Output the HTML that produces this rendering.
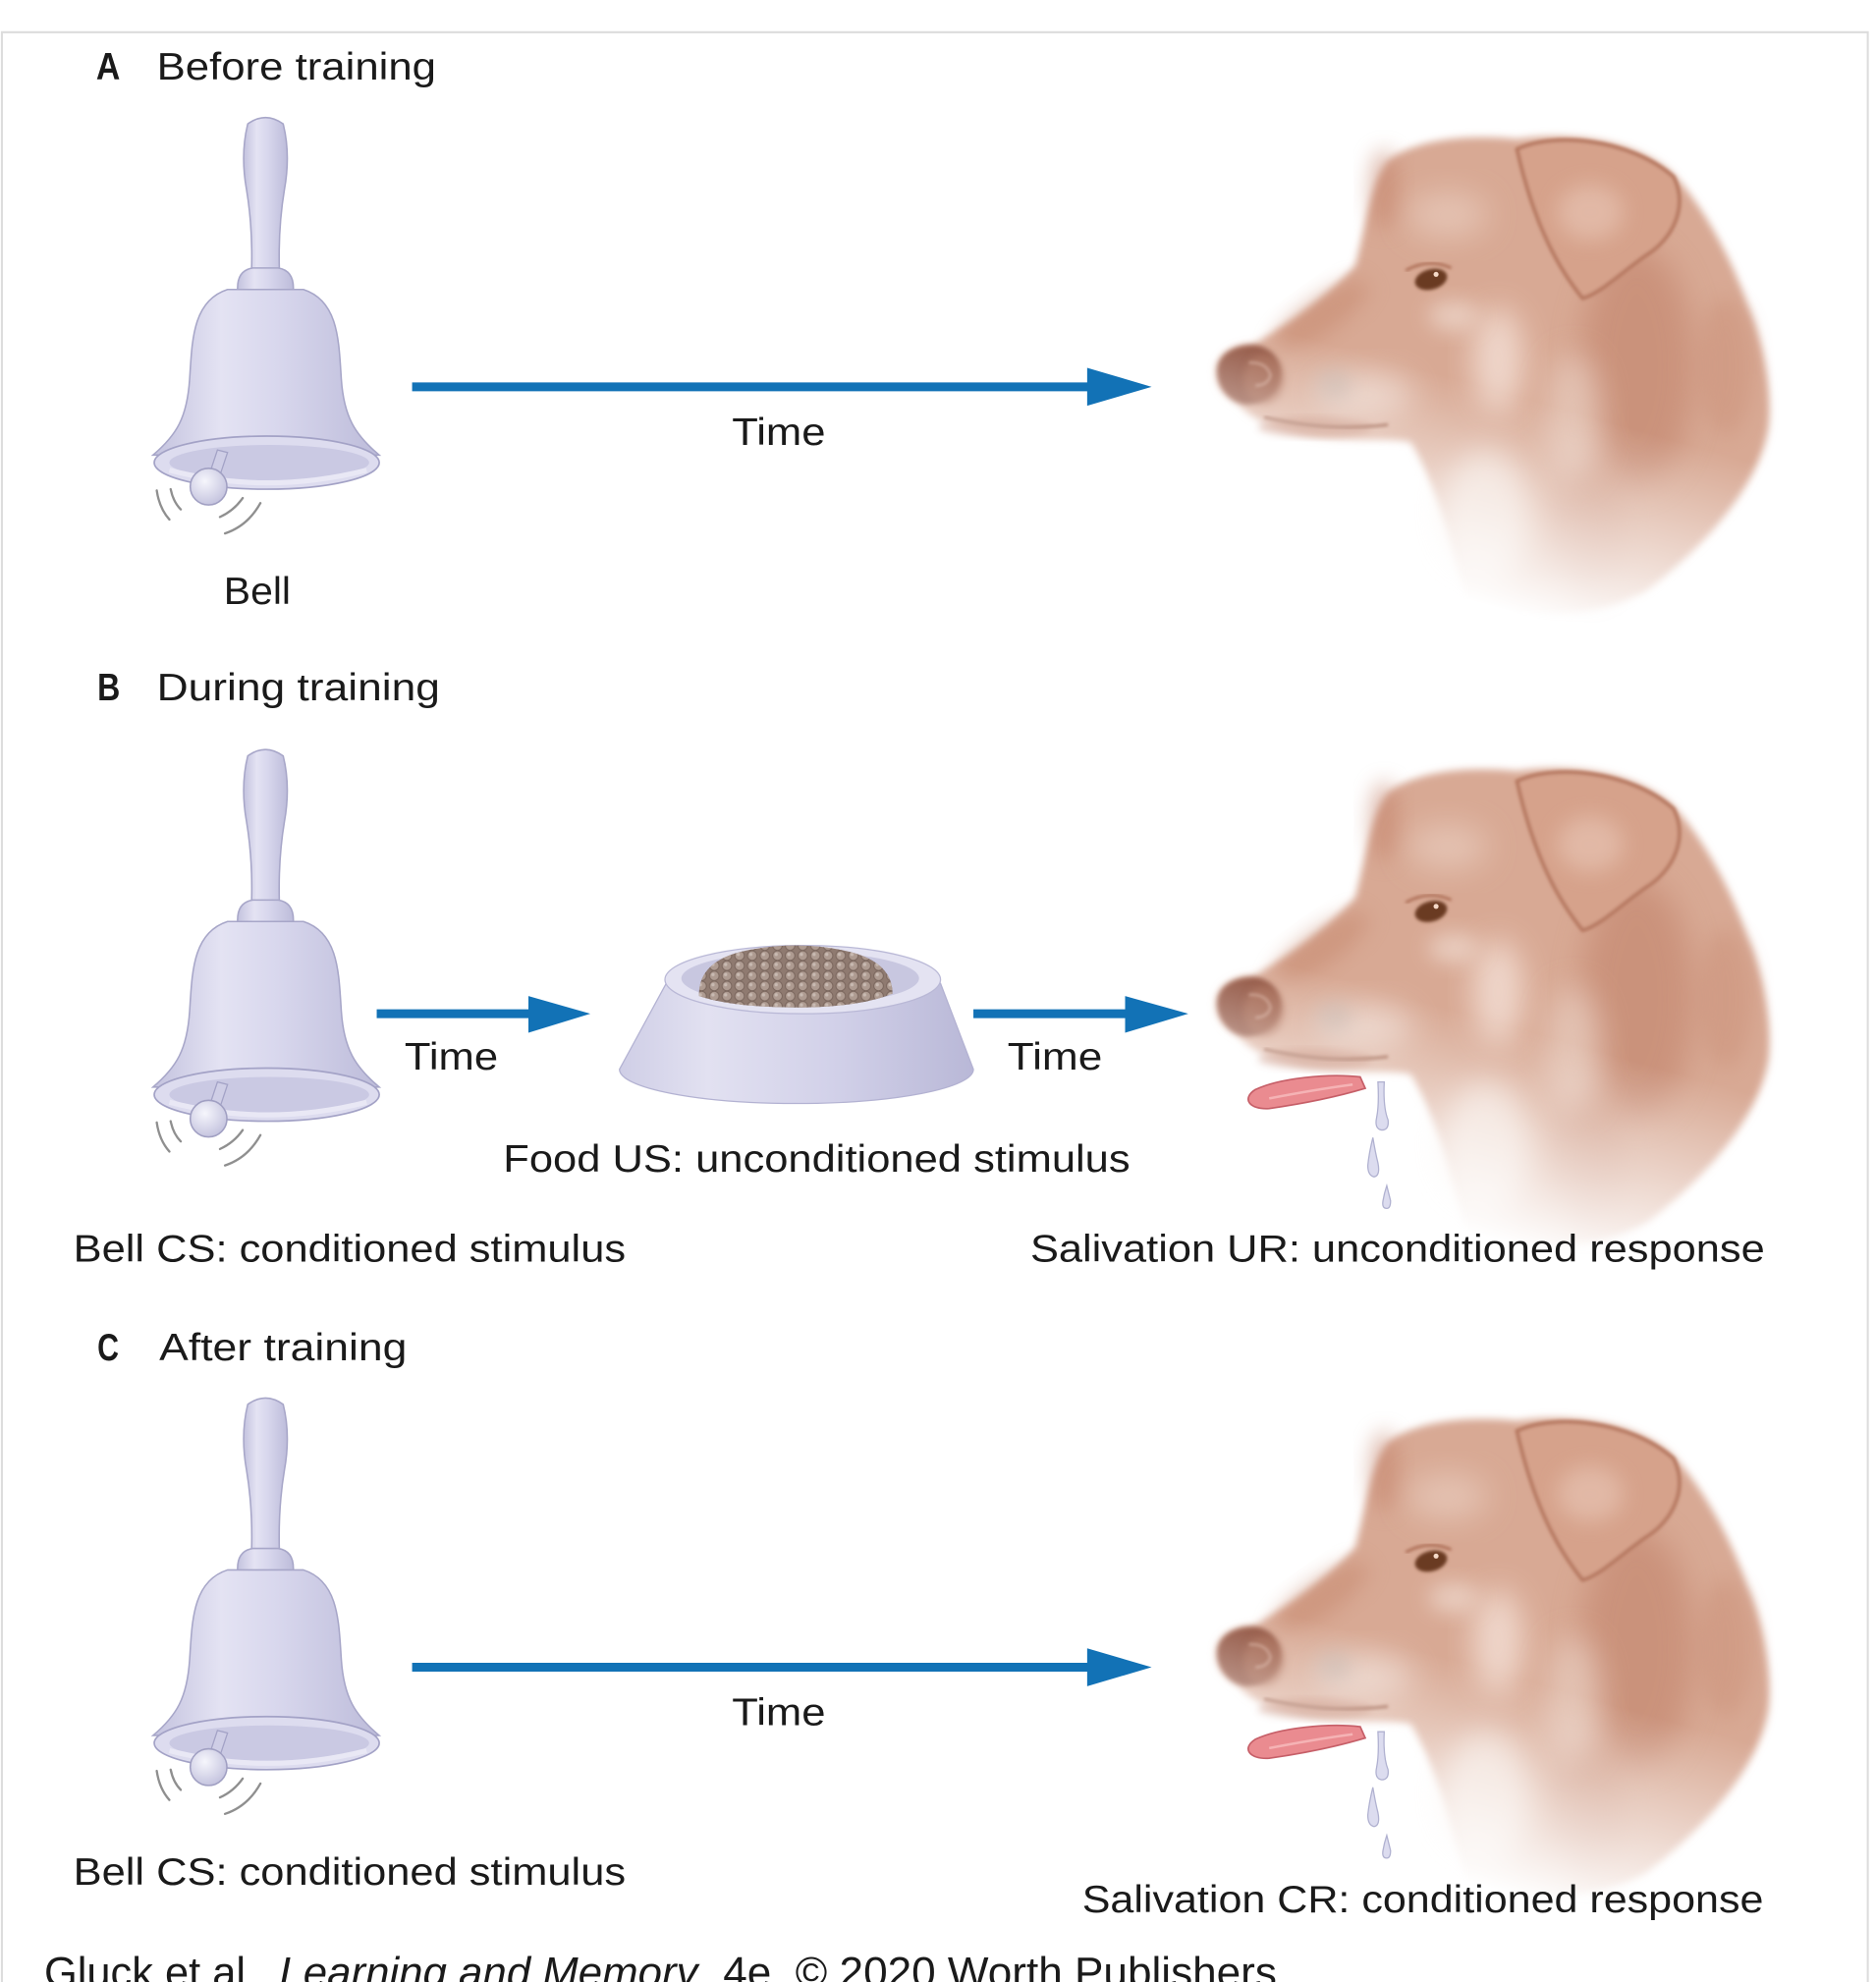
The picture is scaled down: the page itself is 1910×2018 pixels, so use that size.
<!DOCTYPE html>
<html><head><meta charset="utf-8"><style>
html,body{margin:0;padding:0;background:#fff;}
svg{display:block;}
text{font-family:"Liberation Sans",Arial,sans-serif;fill:#1a1a1a;}
</style></head><body>
<svg width="1910" height="2018" viewBox="0 0 1484 1568" preserveAspectRatio="none" xmlns="http://www.w3.org/2000/svg">
<defs>
  <linearGradient id="bellg" x1="0" x2="1" y1="0" y2="0">
    <stop offset="0" stop-color="#c3c2de"/>
    <stop offset="0.3" stop-color="#e4e3f3"/>
    <stop offset="0.55" stop-color="#d8d7ed"/>
    <stop offset="1" stop-color="#bdbcda"/>
  </linearGradient>
  <linearGradient id="bowlg" x1="0" x2="1" y1="0" y2="0">
    <stop offset="0" stop-color="#cfcee6"/>
    <stop offset="0.25" stop-color="#e2e1f1"/>
    <stop offset="0.6" stop-color="#d2d1e9"/>
    <stop offset="1" stop-color="#b9b8d7"/>
  </linearGradient>
  <radialGradient id="ballg" cx="0.4" cy="0.35" r="0.7">
    <stop offset="0" stop-color="#f6f6fc"/>
    <stop offset="1" stop-color="#c2c1dd"/>
  </radialGradient>
  <pattern id="peb" width="10" height="8" patternUnits="userSpaceOnUse">
    <circle cx="5" cy="4" r="3.8" fill="#b09d93" stroke="#7a665d" stroke-width=".8"/>
    <circle cx="4" cy="3" r="1.3" fill="#cbbdb5"/>
  </pattern>
  <filter id="b1" x="-20%" y="-20%" width="140%" height="140%"><feGaussianBlur stdDeviation="1.2"/></filter>
  <filter id="b2" x="-30%" y="-30%" width="160%" height="160%"><feGaussianBlur stdDeviation="2"/></filter>
  <filter id="b3" x="-20%" y="-20%" width="140%" height="140%"><feGaussianBlur stdDeviation="3"/></filter>
  <filter id="b8" x="-50%" y="-50%" width="200%" height="200%"><feGaussianBlur stdDeviation="8"/></filter>
  <filter id="b12" x="-50%" y="-50%" width="200%" height="200%"><feGaussianBlur stdDeviation="12"/></filter>
  <linearGradient id="fadeg" gradientUnits="userSpaceOnUse" x1="1260" y1="330" x2="1215" y2="490">
    <stop offset="0" stop-color="#fff"/>
    <stop offset="1" stop-color="#000"/>
  </linearGradient>
  <mask id="dogfade" maskUnits="userSpaceOnUse" x="900" y="60" width="560" height="460">
    <rect x="900" y="60" width="560" height="460" fill="url(#fadeg)"/>
  </mask>

  <g id="bell">
    <path d="M196 98 Q210 88 224 98 Q230 122 225 150 Q220 180 221 214 L199 214 Q200 180 195 150 Q190 122 196 98 Z" fill="url(#bellg)" stroke="#a7a6c8" stroke-width="1.2"/>
    <path d="M188 230 Q187 214 200 212 L220 212 Q233 214 232 230 Z" fill="url(#bellg)" stroke="#a7a6c8" stroke-width="1.2"/>
    <path d="M180 229 C152 238 152 270 150 300 C148 330 140 344 121 360 L300 360 C281 344 272 330 270 300 C268 270 268 238 240 229 Z" fill="url(#bellg)" stroke="#a7a6c8" stroke-width="1.2"/>
    <ellipse cx="211" cy="366" rx="89" ry="21" fill="#dddcef" stroke="#a3a2c6" stroke-width="1.3"/>
    <ellipse cx="213" cy="366" rx="79" ry="14" fill="#cac9e3"/>
    <path d="M134 372 Q211 392 290 372" fill="none" stroke="#e9e8f5" stroke-width="4"/>
    <path d="M172 356 L180 358 L174 376 L166 374 Z" fill="#cfcee6" stroke="#a3a2c6" stroke-width="1"/>
    <circle cx="165" cy="385" r="14.5" fill="url(#ballg)" stroke="#a09fc2" stroke-width="1.2"/>
    <g fill="none" stroke="#8f8f8f" stroke-width="1.8" stroke-linecap="round">
      <path d="M124 388 Q126 402 134 411"/>
      <path d="M135 387 Q137 397 143 403"/>
      <path d="M174 409 Q185 404 192 394"/>
      <path d="M178 422 Q196 416 206 398"/>
    </g>
  </g>

  <g id="doghead">
    <g mask="url(#dogfade)">
      <path d="M962 294 C962 281 974 273 992 272 C1020 256 1052 232 1072 210 C1080 180 1084 145 1098 127 C1120 110 1160 106 1200 110 C1240 104 1292 110 1322 136 C1345 160 1368 200 1382 240 C1396 272 1402 312 1399 338 C1392 382 1352 430 1302 468 C1262 490 1200 492 1160 482 C1150 432 1136 384 1116 350 C1100 346 1070 350 1040 346 C1010 341 990 332 980 320 C968 313 962 306 962 294 Z" fill="#d8a994" filter="url(#b3)"/>
      <!-- shading -->
      <ellipse cx="1295" cy="290" rx="45" ry="95" fill="#c08068" opacity="0.55" filter="url(#b12)"/>
      <ellipse cx="1365" cy="290" rx="22" ry="55" fill="#c98e76" opacity="0.45" filter="url(#b8)"/>
      <ellipse cx="1045" cy="250" rx="45" ry="14" fill="#c5866c" opacity="0.5" transform="rotate(-35 1045 250)" filter="url(#b8)"/>
      <ellipse cx="1095" cy="150" rx="12" ry="32" fill="#c28068" opacity="0.5" filter="url(#b8)"/>
      <ellipse cx="1040" cy="338" rx="45" ry="8" fill="#b77158" opacity="0.6" filter="url(#b3)"/>
      <ellipse cx="1255" cy="420" rx="28" ry="60" fill="#c4866e" opacity="0.45" filter="url(#b12)"/>
      <!-- highlights -->
      <ellipse cx="1185" cy="285" rx="20" ry="42" fill="#f7e6de" opacity="0.75" filter="url(#b12)"/>
      <ellipse cx="1080" cy="312" rx="38" ry="18" fill="#efdcd3" opacity="0.7" filter="url(#b12)"/>
      <ellipse cx="1145" cy="170" rx="32" ry="18" fill="#ecd3c6" opacity="0.6" filter="url(#b12)"/>
      <ellipse cx="1245" cy="330" rx="22" ry="50" fill="#ecd6cb" opacity="0.6" filter="url(#b12)"/>
      <ellipse cx="1175" cy="410" rx="35" ry="55" fill="#f3e4dc" opacity="0.8" filter="url(#b12)"/>
      <ellipse cx="1150" cy="250" rx="20" ry="12" fill="#f0dbd0" opacity="0.7" filter="url(#b8)"/>
      <ellipse cx="1055" cy="305" rx="14" ry="12" fill="#c7b3a9" opacity="0.8" filter="url(#b8)"/>
      <!-- ear -->
      <path d="M1200 118 C1230 104 1290 110 1324 140 C1336 165 1322 190 1302 202 C1282 216 1266 232 1252 236 C1234 214 1214 180 1200 118 Z" fill="#d6a28b" stroke="#b67860" stroke-width="3" filter="url(#b1)"/>
      <ellipse cx="1258" cy="168" rx="26" ry="22" fill="#e9c8b8" opacity="0.6" filter="url(#b8)"/>
      <!-- eye -->
      <ellipse cx="1132" cy="221" rx="13" ry="8" fill="#6b3a24" transform="rotate(-15 1132 221)" filter="url(#b1)"/>
      <circle cx="1136" cy="217" r="2" fill="#f4d9c8"/>
      <path d="M1112 214 Q1130 204 1148 212" fill="none" stroke="#a8684f" stroke-width="2" filter="url(#b1)"/>
      <!-- nose -->
      <path d="M963 294 C963 281 975 273 992 273 C1006 274 1014 286 1013 298 C1012 312 1000 320 985 320 C972 318 963 306 963 294 Z" fill="#8a4a35" filter="url(#b2)"/>
      <ellipse cx="1000" cy="300" rx="16" ry="20" fill="#a8664e" opacity="0.6" filter="url(#b3)"/>
      <path d="M988 287 Q1002 286 1005 297 Q1003 305 993 305" fill="none" stroke="#c08c78" stroke-width="2" filter="url(#b1)"/>
      <!-- mouth -->
      <path d="M1000 330 Q1050 342 1098 336" fill="none" stroke="#9c5f47" stroke-width="2.5" filter="url(#b1)"/>
    </g>
  </g>

  <g id="slob">
    <path d="M1076 852 C1050 849 1012 853 993 862 C982 869 988 878 1004 877 C1032 873 1060 867 1080 861 Z" fill="#ea8b90" stroke="#c65f68" stroke-width="1.3"/>
    <path d="M1004 869 Q1040 862 1070 858" fill="none" stroke="#f5b3b5" stroke-width="2"/>
    <g fill="#dcdcef" stroke="#b0b1d0" stroke-width="1">
      <path d="M1090 856 L1095 856 Q1094 876 1098 886 Q1099 894 1093 894 Q1087 893 1089 884 Q1091 874 1090 856 Z"/>
      <path d="M1086 900 Q1088 912 1090 920 Q1092 930 1087 931 Q1082 930 1082 922 Q1083 912 1086 900 Z"/>
      <path d="M1097 938 Q1099 946 1100 950 Q1100 956 1097 956 Q1093 956 1094 950 Q1095 944 1097 938 Z"/>
    </g>
  </g>
</defs>

<path d="M1.5 1568 L1.5 25.5 L1477.5 25.5 L1477.5 1568" fill="none" stroke="#dcdcdc" stroke-width="1.6"/>

<!-- ===== A ===== -->
<text x="76" y="63" font-size="30" font-weight="bold" textLength="19" lengthAdjust="spacingAndGlyphs">A</text>
<text x="124" y="63" font-size="30" textLength="221" lengthAdjust="spacingAndGlyphs">Before training</text>
<use href="#bell"/>
<text x="177" y="478" font-size="30" textLength="53" lengthAdjust="spacingAndGlyphs">Bell</text>
<line x1="326" y1="306" x2="864" y2="306" stroke="#1272b6" stroke-width="7"/>
<polygon points="860,291 911,306 860,321" fill="#1272b6"/>
<text x="579" y="352" font-size="30" textLength="74" lengthAdjust="spacingAndGlyphs">Time</text>
<use href="#doghead"/>

<!-- ===== B ===== -->
<text x="77" y="554" font-size="30" font-weight="bold" textLength="18" lengthAdjust="spacingAndGlyphs">B</text>
<text x="124" y="554" font-size="30" textLength="224" lengthAdjust="spacingAndGlyphs">During training</text>
<use href="#bell" transform="translate(0,500)"/>
<line x1="298" y1="802" x2="421" y2="802" stroke="#1272b6" stroke-width="7"/>
<polygon points="418,788 467,802 418,817" fill="#1272b6"/>
<text x="320" y="846" font-size="30" textLength="74" lengthAdjust="spacingAndGlyphs">Time</text>

<!-- bowl -->
<path d="M527 778 L490 846 A140 27 0 0 0 770 846 L744 778 Z" fill="url(#bowlg)" stroke="#b3b2d2" stroke-width="1"/>
<ellipse cx="635" cy="775" rx="109" ry="27" fill="#e4e3f2" stroke="#b9b8d6" stroke-width="1"/>
<ellipse cx="633" cy="774" rx="94" ry="21" fill="#c8c7e0"/>
<path d="M553 788 Q552 760 590 752 Q630 744 668 752 Q706 760 706 786 Q680 797 630 797 Q580 797 553 788 Z" fill="#8f7a70"/>
<path d="M553 788 Q552 760 590 752 Q630 744 668 752 Q706 760 706 786 Q680 797 630 797 Q580 797 553 788 Z" fill="url(#peb)" opacity="0.95"/>

<line x1="770" y1="802" x2="893" y2="802" stroke="#1272b6" stroke-width="7"/>
<polygon points="890,788 940,802 890,817" fill="#1272b6"/>
<text x="797" y="846" font-size="30" textLength="75" lengthAdjust="spacingAndGlyphs">Time</text>

<use href="#doghead" transform="translate(0,500)"/>
<use href="#slob"/>

<text x="398" y="927" font-size="30" textLength="496" lengthAdjust="spacingAndGlyphs">Food US: unconditioned stimulus</text>
<text x="58" y="998" font-size="30" textLength="437" lengthAdjust="spacingAndGlyphs">Bell CS: conditioned stimulus</text>
<text x="815" y="998" font-size="30" textLength="581" lengthAdjust="spacingAndGlyphs">Salivation UR: unconditioned response</text>

<!-- ===== C ===== -->
<text x="77" y="1076" font-size="30" font-weight="bold" textLength="17" lengthAdjust="spacingAndGlyphs">C</text>
<text x="126" y="1076" font-size="30" textLength="196" lengthAdjust="spacingAndGlyphs">After training</text>
<use href="#bell" transform="translate(0,1013)"/>
<line x1="326" y1="1319" x2="864" y2="1319" stroke="#1272b6" stroke-width="7"/>
<polygon points="860,1304 911,1319 860,1334" fill="#1272b6"/>
<text x="579" y="1365" font-size="30" textLength="74" lengthAdjust="spacingAndGlyphs">Time</text>
<use href="#doghead" transform="translate(0,1014)"/>
<use href="#slob" transform="translate(0,514)"/>

<text x="58" y="1491" font-size="30" textLength="437" lengthAdjust="spacingAndGlyphs">Bell CS: conditioned stimulus</text>
<text x="856" y="1513" font-size="30" textLength="539" lengthAdjust="spacingAndGlyphs">Salivation CR: conditioned response</text>

<!-- caption -->
<text x="35" y="1572" font-size="34" textLength="178" lengthAdjust="spacingAndGlyphs">Gluck et al.,</text>
<text x="221" y="1572" font-size="34" font-style="italic" textLength="331" lengthAdjust="spacingAndGlyphs">Learning and Memory</text>
<text x="553" y="1572" font-size="34" textLength="457" lengthAdjust="spacingAndGlyphs">, 4e, © 2020 Worth Publishers</text>
</svg>
</body></html>
